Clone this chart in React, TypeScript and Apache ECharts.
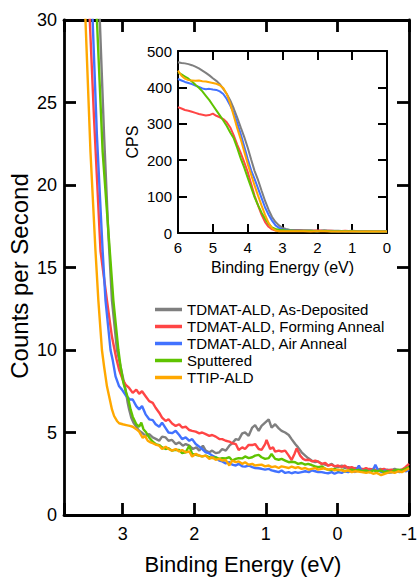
import React, { useEffect, useRef } from "react";
import * as echarts from "echarts";

const seriesNames = [
  "TDMAT-ALD, As-Deposited",
  "TDMAT-ALD, Forming Anneal",
  "TDMAT-ALD, Air Anneal",
  "Sputtered",
  "TTIP-ALD",
];
const seriesColors = ["#7f7f7f", "#ff4545", "#4272ff", "#5fc300", "#ffa800"];

const mainXTicks = [-1, 0, 1, 2, 3];
const mainYTicks = [0, 5, 10, 15, 20, 25, 30];

// Main panel: [binding energy (eV), counts per second]
const mainAsDeposited = [
  [3.37, 36], [3.32, 30], [3.26, 23], [3.2, 17], [3.15, 13], [3.08, 10], [3.03, 9.0], [3.0, 8.4], [2.96, 7.6], [2.93, 6.8],
  [2.91, 6.4], [2.88, 5.9], [2.85, 5.6], [2.81, 5.35], [2.77, 5.1], [2.72, 4.95], [2.68, 4.8], [2.63, 4.9], [2.58, 4.7], [2.53, 4.6],
  [2.49, 4.5], [2.45, 4.75], [2.4, 4.7], [2.36, 4.5], [2.31, 4.55], [2.26, 4.3], [2.21, 4.4], [2.16, 4.2], [2.12, 4.3], [2.07, 4.2],
  [2.02, 4.0], [1.97, 4.1], [1.93, 3.9], [1.88, 4.2], [1.84, 3.9], [1.79, 3.8], [1.75, 3.9], [1.7, 3.75], [1.65, 3.8], [1.61, 4.0],
  [1.56, 3.9], [1.51, 4.2], [1.47, 4.35], [1.42, 4.6], [1.38, 4.55], [1.33, 4.95], [1.29, 5.0], [1.24, 4.8], [1.19, 5.3], [1.15, 5.45],
  [1.1, 5.1], [1.06, 5.4], [1.01, 5.6], [0.96, 5.8], [0.92, 5.3], [0.87, 5.5], [0.82, 5.25], [0.78, 5.1], [0.73, 5.0], [0.68, 4.85],
  [0.64, 4.6], [0.59, 4.3], [0.55, 4.1], [0.5, 3.8], [0.45, 3.6], [0.41, 3.45], [0.36, 3.3], [0.31, 3.2], [0.27, 3.25], [0.22, 3.1],
  [0.17, 3.05], [0.13, 3.0], [0.08, 3.1], [0.04, 2.95], [-0.01, 2.9], [-0.06, 3.0], [-0.1, 2.85], [-0.15, 2.9], [-0.2, 2.8], [-0.25, 2.85],
  [-0.3, 2.75], [-0.35, 2.8], [-0.4, 2.7], [-0.45, 2.8], [-0.5, 2.75], [-0.55, 2.7], [-0.6, 2.8], [-0.65, 2.65], [-0.7, 2.75], [-0.75, 2.7],
  [-0.8, 2.8], [-0.85, 2.7], [-0.9, 2.75], [-0.95, 2.8], [-1.0, 2.85],
];
const mainFormingAnneal = [
  [3.5, 36], [3.46, 30], [3.4, 24], [3.31, 16], [3.22, 13], [3.15, 10.8], [3.09, 9.5], [3.05, 8.8], [3.0, 8.2], [2.96, 7.9],
  [2.91, 7.7], [2.86, 7.4], [2.81, 7.6], [2.77, 7.35], [2.73, 7.5], [2.68, 7.2], [2.63, 6.9], [2.58, 6.8], [2.54, 6.5], [2.49, 6.2],
  [2.45, 5.9], [2.4, 5.7], [2.36, 5.8], [2.31, 5.55], [2.26, 5.4], [2.21, 5.5], [2.17, 5.3], [2.12, 5.35], [2.07, 5.15], [2.03, 5.1],
  [1.98, 5.05], [1.93, 4.95], [1.89, 5.0], [1.84, 4.9], [1.79, 4.8], [1.75, 4.85], [1.7, 4.75], [1.65, 4.6], [1.61, 4.6], [1.56, 4.5],
  [1.51, 4.45], [1.47, 4.35], [1.42, 4.3], [1.38, 3.94], [1.33, 4.1], [1.29, 4.0], [1.24, 4.25], [1.19, 4.24], [1.15, 4.3], [1.1, 4.0],
  [1.06, 3.95], [1.01, 4.3], [0.99, 4.55], [0.94, 4.0], [0.9, 4.1], [0.87, 3.84], [0.82, 3.9], [0.78, 3.85], [0.73, 3.9], [0.68, 3.6],
  [0.64, 3.33], [0.6, 3.7], [0.57, 4.04], [0.52, 3.6], [0.48, 3.4], [0.45, 3.33], [0.4, 3.35], [0.35, 3.25], [0.31, 3.3], [0.27, 3.23],
  [0.22, 3.1], [0.17, 3.15], [0.13, 3.0], [0.08, 3.05], [0.04, 2.95], [-0.01, 3.0], [-0.06, 2.9], [-0.1, 3.0], [-0.15, 2.85], [-0.2, 2.9],
  [-0.25, 2.8], [-0.3, 2.9], [-0.35, 2.75], [-0.4, 2.85], [-0.45, 2.75], [-0.5, 2.8], [-0.55, 2.7], [-0.6, 2.75], [-0.65, 2.8], [-0.7, 2.7],
  [-0.75, 2.75], [-0.8, 2.65], [-0.85, 2.7], [-0.9, 2.75], [-0.95, 2.9], [-1.0, 3.1],
];
const mainAirAnneal = [
  [3.46, 36], [3.42, 30], [3.36, 23], [3.28, 16], [3.24, 13], [3.17, 10], [3.14, 9.4], [3.1, 8.4], [3.05, 7.8], [3.01, 7.6],
  [2.95, 7.2], [2.9, 7.0], [2.86, 7.0], [2.81, 6.6], [2.77, 6.4], [2.73, 6.6], [2.68, 6.1], [2.63, 5.8], [2.58, 5.75], [2.54, 5.5],
  [2.49, 5.35], [2.45, 5.6], [2.4, 5.27], [2.36, 5.0], [2.31, 4.96], [2.26, 5.1], [2.21, 4.85], [2.17, 4.6], [2.12, 4.7], [2.07, 4.5],
  [2.03, 4.6], [1.98, 4.3], [1.93, 4.14], [1.89, 4.0], [1.84, 3.8], [1.8, 3.75], [1.75, 3.6], [1.7, 3.5], [1.65, 3.3], [1.61, 3.25],
  [1.56, 3.13], [1.51, 3.2], [1.47, 3.05], [1.42, 3.0], [1.38, 3.1], [1.33, 2.95], [1.29, 2.93], [1.24, 3.0], [1.19, 2.9], [1.15, 2.85],
  [1.1, 2.83], [1.06, 2.8], [1.01, 2.75], [0.96, 2.8], [0.92, 2.7], [0.87, 2.65], [0.82, 2.6], [0.78, 2.7], [0.73, 2.55], [0.68, 2.6],
  [0.64, 2.53], [0.59, 2.6], [0.55, 2.55], [0.5, 2.6], [0.45, 2.65], [0.4, 2.6], [0.36, 2.7], [0.31, 2.65], [0.27, 2.6], [0.22, 2.6],
  [0.17, 2.55], [0.13, 2.53], [0.08, 2.6], [0.04, 2.5], [-0.01, 2.6], [-0.06, 2.55], [-0.1, 2.65], [-0.15, 2.6], [-0.2, 2.7], [-0.25, 2.6],
  [-0.3, 3.0], [-0.34, 2.65], [-0.4, 2.7], [-0.45, 2.6], [-0.5, 2.75], [-0.53, 3.05], [-0.57, 2.7], [-0.62, 2.6], [-0.67, 2.7], [-0.72, 2.55],
  [-0.77, 2.6], [-0.82, 2.65], [-0.87, 2.6], [-0.92, 2.7], [-0.96, 2.65], [-1.0, 2.75],
];
const mainSputtered = [
  [3.4, 36], [3.36, 30], [3.28, 22], [3.18, 16], [3.13, 13], [3.06, 10], [3.03, 9.0], [2.99, 8.0], [2.95, 7.4], [2.92, 7.0],
  [2.89, 6.4], [2.86, 5.96], [2.81, 5.5], [2.77, 5.35], [2.74, 5.6], [2.71, 5.2], [2.68, 5.05], [2.63, 4.7], [2.58, 4.44], [2.54, 4.3],
  [2.49, 4.24], [2.45, 4.1], [2.4, 4.0], [2.36, 4.05], [2.31, 3.9], [2.26, 3.95], [2.21, 3.94], [2.17, 3.75], [2.12, 3.8], [2.07, 4.2],
  [2.03, 3.7], [1.98, 3.65], [1.93, 3.6], [1.89, 3.55], [1.84, 3.6], [1.79, 3.5], [1.75, 3.45], [1.7, 3.5], [1.65, 3.4], [1.61, 3.45],
  [1.56, 3.43], [1.51, 3.5], [1.47, 3.3], [1.42, 3.4], [1.38, 3.45], [1.33, 3.43], [1.29, 3.55], [1.24, 3.45], [1.19, 3.5], [1.15, 3.6],
  [1.1, 3.64], [1.06, 3.5], [1.01, 3.4], [0.96, 3.45], [0.92, 3.7], [0.87, 3.4], [0.82, 3.35], [0.78, 3.4], [0.73, 3.3], [0.68, 3.2],
  [0.64, 3.23], [0.59, 3.2], [0.55, 3.1], [0.5, 3.15], [0.45, 3.05], [0.41, 3.1], [0.36, 3.03], [0.31, 2.95], [0.27, 2.9], [0.22, 2.95],
  [0.17, 2.8], [0.13, 2.75], [0.08, 2.73], [0.04, 2.8], [-0.01, 2.7], [-0.06, 2.75], [-0.1, 2.65], [-0.15, 2.7], [-0.2, 2.75], [-0.25, 2.7],
  [-0.3, 2.73], [-0.35, 2.65], [-0.4, 2.7], [-0.45, 2.6], [-0.5, 2.7], [-0.55, 2.65], [-0.6, 2.7], [-0.65, 2.6], [-0.7, 2.65], [-0.75, 2.6],
  [-0.8, 2.7], [-0.85, 2.75], [-0.9, 2.7], [-0.95, 2.8], [-1.0, 2.9],
];
const mainTTIP = [
  [3.57, 36], [3.52, 30], [3.45, 22], [3.38, 16], [3.34, 13], [3.29, 10], [3.26, 9.0], [3.22, 7.8], [3.18, 7.0], [3.15, 6.4],
  [3.12, 6.0], [3.08, 5.7], [3.05, 5.56], [3.0, 5.5], [2.95, 5.45], [2.9, 5.4], [2.86, 5.35], [2.81, 5.2], [2.77, 5.05], [2.72, 4.67],
  [2.69, 4.8], [2.65, 4.5], [2.61, 4.4], [2.58, 4.35], [2.53, 4.25], [2.49, 4.2], [2.45, 4.0], [2.4, 4.14], [2.36, 4.0], [2.31, 3.9],
  [2.26, 4.0], [2.21, 3.85], [2.17, 3.94], [2.12, 3.8], [2.07, 3.85], [2.03, 3.54], [1.98, 3.7], [1.93, 3.6], [1.89, 3.55], [1.84, 3.6],
  [1.79, 3.4], [1.75, 3.5], [1.7, 3.35], [1.65, 3.4], [1.61, 3.3], [1.56, 3.33], [1.51, 3.0], [1.47, 3.3], [1.42, 3.2], [1.38, 3.25],
  [1.33, 3.1], [1.29, 3.2], [1.24, 3.05], [1.19, 3.1], [1.15, 3.0], [1.1, 3.03], [1.06, 3.05], [1.01, 2.95], [0.96, 3.0], [0.92, 2.9],
  [0.87, 2.95], [0.82, 2.85], [0.78, 2.95], [0.73, 2.9], [0.68, 2.85], [0.64, 2.93], [0.59, 2.85], [0.55, 2.9], [0.5, 2.8], [0.45, 2.85],
  [0.4, 2.75], [0.36, 2.8], [0.31, 2.85], [0.27, 2.75], [0.22, 2.8], [0.18, 2.83], [0.13, 2.75], [0.08, 2.8], [0.04, 2.7], [-0.01, 2.75],
  [-0.06, 2.7], [-0.1, 2.65], [-0.15, 2.7], [-0.2, 2.6], [-0.25, 2.65], [-0.29, 2.63], [-0.34, 2.6], [-0.4, 2.55], [-0.45, 2.6], [-0.5, 2.5],
  [-0.55, 2.55], [-0.61, 2.42], [-0.66, 2.5], [-0.7, 2.55], [-0.75, 2.6], [-0.8, 2.55], [-0.85, 2.65], [-0.9, 2.6], [-0.95, 2.7], [-1.0, 2.83],
];

// Inset panel: shared energy grid (eV) and CPS per series
const insetEnergy = [
  6.0, 5.9, 5.8, 5.7, 5.6, 5.5, 5.4, 5.3, 5.2, 5.1, 5.0, 4.9, 4.8, 4.7, 4.6, 4.5, 4.4, 4.3, 4.2, 4.1, 4.0,
  3.9, 3.8, 3.7, 3.6, 3.5, 3.4, 3.3, 3.2, 3.1, 3.0, 2.9, 2.8, 2.6, 2.4, 2.2, 2.0, 1.8, 1.6, 1.4, 1.2, 1.0,
  0.8, 0.6, 0.4, 0.2, 0.0,
];
const insetAsDeposited = [
  469, 467, 466, 464, 461, 457, 452, 446, 440, 433, 425, 418, 409, 396, 382, 364, 342, 317, 290, 264, 235,
  202, 170, 145, 116, 88, 64, 44, 30, 21, 14, 11, 9, 8, 7, 7, 6, 7, 6, 6, 5, 6,
  5, 5, 4, 4, 4,
];
const insetFormingAnneal = [
  346, 342, 338, 336, 333, 330, 327, 325, 323, 324, 328, 322, 318, 313, 304, 290, 268, 243, 220, 195, 168,
  135, 102, 75, 50, 30, 17, 10, 7, 6, 6, 7, 6, 8, 7, 6, 7, 6, 6, 5, 6, 5,
  5, 5, 4, 4, 4,
];
const insetAirAnneal = [
  423, 419, 415, 412, 409, 405, 401, 397, 395, 396, 394, 393, 389, 382, 368, 350, 330, 302, 272, 238, 204,
  172, 148, 122, 96, 70, 50, 34, 21, 14, 10, 8, 7, 7, 6, 6, 5, 6, 5, 5, 5, 4,
  5, 4, 4, 4, 4,
];
const insetSputtered = [
  441, 436, 430, 424, 416, 407, 399, 389, 377, 365, 351, 337, 323, 309, 294, 276, 260, 234, 205, 180, 152,
  125, 98, 76, 56, 39, 25, 15, 11, 9, 8, 7, 7, 6, 6, 6, 5, 6, 5, 5, 5, 5,
  4, 4, 4, 4, 4,
];
const insetTTIP = [
  446, 432, 424, 420, 419, 418, 419, 417, 416, 414, 412, 410, 406, 398, 382, 355, 322, 288, 258, 224, 190,
  160, 130, 102, 75, 50, 28, 13, 7, 5, 5, 5, 5, 5, 5, 4, 5, 5, 4, 4, 4, 4,
  4, 4, 4, 4, 4,
];
const insetXTicks = [0, 1, 2, 3, 4, 5, 6];
const insetYTicks = [0, 100, 200, 300, 400, 500];

const mainSeriesData = [mainAsDeposited, mainFormingAnneal, mainAirAnneal, mainSputtered, mainTTIP];
const insetSeriesData = [insetAsDeposited, insetFormingAnneal, insetAirAnneal, insetSputtered, insetTTIP];

const FONT = "'Liberation Sans', Arial, sans-serif";

function axisCommon(lw: number, tickLen: number) {
  return {
    type: "value" as const,
    axisLine: { show: true, onZero: false, lineStyle: { color: "#000", width: lw } },
    axisTick: { show: true, inside: true, length: tickLen, lineStyle: { color: "#000", width: lw } },
    splitLine: { show: false },
  };
}

const intLabel = (v: number) => (Math.abs(v - Math.round(v)) < 1e-6 ? String(Math.round(v)) : "");

export default function App() {
  const ref = useRef<HTMLDivElement>(null);
  useEffect(() => {
    if (!ref.current) return;
    const chart = echarts.init(ref.current, null, { renderer: "svg" });
    const mainX = { min: mainXTicks[0], max: 3.82, interval: 1 };
    const mainY = { min: mainYTicks[0], max: mainYTicks[mainYTicks.length - 1], interval: 5 };
    const insX = { min: insetXTicks[0], max: insetXTicks[insetXTicks.length - 1], interval: 1 };
    const insY = { min: insetYTicks[0], max: insetYTicks[insetYTicks.length - 1], interval: 100 };
    const option: any = {
      animation: false,
      backgroundColor: "#fff",
      textStyle: { fontFamily: FONT },
      grid: [
        { left: 64, top: 20, width: 347, height: 495, show: false },
        { left: 178, top: 51, width: 209, height: 182, show: true, backgroundColor: "#fff", borderWidth: 0 },
      ],
      xAxis: [
        {
          ...axisCommon(2.8, 12), ...mainX, gridIndex: 0, inverse: true, position: "bottom",
          axisLabel: { fontSize: 18, color: "#000", margin: 10, formatter: intLabel, fontFamily: FONT },
        },
        {
          ...axisCommon(2.8, 12), ...mainX, gridIndex: 0, inverse: true, position: "top",
          axisLabel: { show: false },
        },
        {
          ...axisCommon(2, 9), ...insX, gridIndex: 1, inverse: true, position: "bottom",
          axisLabel: { fontSize: 15, color: "#000", margin: 7, formatter: intLabel, fontFamily: FONT },
          name: "Binding Energy (eV)", nameLocation: "middle", nameGap: 26,
          nameTextStyle: { fontSize: 16, color: "#000", fontFamily: FONT },
        },
        {
          ...axisCommon(2, 9), ...insX, gridIndex: 1, inverse: true, position: "top",
          axisLabel: { show: false },
        },
      ],
      yAxis: [
        {
          ...axisCommon(2.8, 12), ...mainY, gridIndex: 0, position: "left",
          axisLabel: { fontSize: 18, color: "#000", margin: 7, fontFamily: FONT },
        },
        {
          ...axisCommon(2.8, 12), ...mainY, gridIndex: 0, position: "right",
          axisLabel: { show: false },
        },
        {
          ...axisCommon(2, 9), ...insY, gridIndex: 1, position: "left",
          axisLabel: { fontSize: 15, color: "#000", margin: 6, fontFamily: FONT },
          name: "CPS", nameLocation: "middle", nameGap: 38,
          nameTextStyle: { fontSize: 16, color: "#000", fontFamily: FONT },
        },
        {
          ...axisCommon(2, 9), ...insY, gridIndex: 1, position: "right",
          axisLabel: { show: false },
        },
      ],
      legend: {
        left: 155,
        top: 302,
        orient: "vertical",
        icon: "rect",
        itemWidth: 27,
        itemHeight: 3.5,
        itemGap: 2,
        padding: 0,
        selectedMode: false,
        data: seriesNames,
        textStyle: { fontSize: 15, color: "#000", fontFamily: FONT },
      },
      graphic: [
        {
          type: "text",
          x: 19,
          y: 276,
          rotation: Math.PI / 2,
          style: {
            text: "Counts per Second",
            fontSize: 24,
            fontFamily: FONT,
            fill: "#000",
            align: "center",
            verticalAlign: "middle",
          },
        },
        {
          type: "text",
          x: 243,
          y: 564,
          style: {
            text: "Binding Energy (eV)",
            fontSize: 22,
            fontFamily: FONT,
            fill: "#000",
            align: "center",
            verticalAlign: "middle",
          },
        },
      ],
      series: [
        ...seriesNames.map((name, i) => ({
          name,
          type: "line",
          xAxisIndex: 0,
          yAxisIndex: 0,
          data: mainSeriesData[i],
          showSymbol: false,
          symbol: "none",
          clip: true,
          color: seriesColors[i],
          lineStyle: { color: seriesColors[i], width: 2.4 },
          z: 2 + i,
        })),
        ...seriesNames.map((name, i) => ({
          name,
          type: "line",
          xAxisIndex: 2,
          yAxisIndex: 2,
          data: insetEnergy.map((e, k) => [e, insetSeriesData[i][k]]),
          showSymbol: false,
          symbol: "none",
          clip: true,
          color: seriesColors[i],
          lineStyle: { color: seriesColors[i], width: 2 },
          z: 2 + i,
        })),
      ],
    };
    chart.setOption(option);
    return () => chart.dispose();
  }, []);
  return (
    <div
      ref={ref}
      style={{ position: "fixed", left: 0, top: 0, width: 420, height: 579, background: "#fff" }}
    />
  );
}
